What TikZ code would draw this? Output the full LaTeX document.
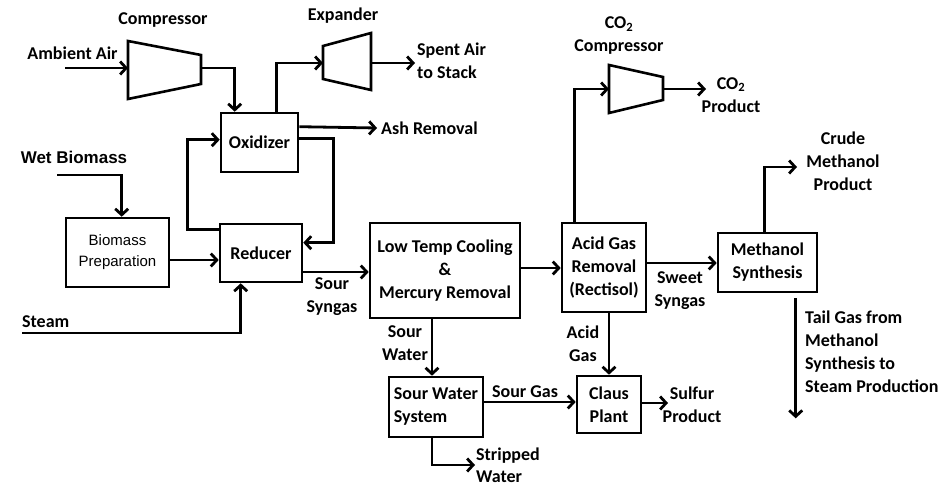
\documentclass[tikz,border=0pt]{standalone}
\usepackage{fontspec}
\setmainfont{Carlito}
\newfontfamily\arialfont{Liberation Sans}
\usetikzlibrary{arrows.meta,calc}
\begin{document}
\begin{tikzpicture}[x=1pt,y=-1pt,
  box/.style={draw,line width=2.6pt,inner sep=0pt,align=center,font=\bfseries\fontsize{18}{23}\selectfont},
  flow/.style={line width=2.8pt,-{Straight Barb[length=6pt,width=13pt]}},
  lbl/.style={font=\bfseries\fontsize{18}{23}\selectfont,align=center,inner sep=0pt},
  machine/.style={line width=2.6pt,line join=miter},
]
\useasboundingbox (0,0) rectangle (951,487);

% boxes
\node[box,minimum width=77pt,minimum height=59pt] (ox) at (259.5,142.5) {Oxidizer};
\node[box,minimum width=82pt,minimum height=58pt] (red) at (261,253) {Reducer};
\node[box,minimum width=103pt,minimum height=69pt,font=\arialfont\fontsize{15}{21}\selectfont] (bp) at (117.5,252.5) {Biomass\\Preparation};
\node[box,minimum width=150pt,minimum height=95pt] (ltc) at (445,270.5) {Low Temp Cooling\\\&\\Mercury Removal};
\node[box,minimum width=84pt,minimum height=89pt] (agr) at (604,267.5) {Acid Gas\\Removal\\(Rectisol)};
\node[box,minimum width=99pt,minimum height=59pt] (meth) at (767.5,262.5) {Methanol\\Synthesis};
\node[box,minimum width=94pt,minimum height=60pt,align=left] (sws) at (436,407) {Sour Water\\System};
\node[box,minimum width=64pt,minimum height=57pt] (claus) at (609,404.5) {Claus\\Plant};

% machines
\draw[machine] (128,41) -- (128,99) -- (201,84) -- (201,55) -- cycle;
\draw[machine] (323,46) -- (323,79) -- (371,90) -- (371,33) -- cycle;
\draw[machine] (609,65) -- (609,113) -- (663,100) -- (663,77) -- cycle;
\coordinate (compin) at (128,68);
\coordinate (compout) at (201,68);
\coordinate (expin) at (323,63);
\coordinate (expout) at (371,63);
\coordinate (co2in) at (609,89);
\coordinate (co2out) at (663,89);

% free ends
\coordinate (air) at (65,68);
\coordinate (spent) at (415,63);
\coordinate (ash) at (377,128);
\coordinate (wb) at (57,175);
\coordinate (steam) at (22,333);
\coordinate (co2prod) at (706,89);
\coordinate (crude) at (797,167);
\coordinate (sulf) at (668,403);
\coordinate (strip) at (475,465);

% connectors
\draw[flow] (air) -- (compin);
\draw[flow] (compout) -| ($(ox.north west)+(15,0)$);
\draw[flow] ($(ox.north west)+(57,0)$) |- (expin);
\draw[flow] (expout) -- (spent);
\draw[flow] ($(ox.north east)+(0,15)$) -- (ash);
\draw[flow] ($(ox.north east)+(0,27)$) -- ++(34,0) |- ($(red.north east)+(0,20)$);
\draw[flow] ($(red.north west)+(0,7)$) -- ++(-31,0) |- ($(ox.north west)+(0,28)$);
\draw[flow] (wb) -| ($(bp.north west)+(57,0)$);
\draw[flow] (bp.east |- 0,260) -- (red.west |- 0,260);
\draw[flow] (steam) -| ($(red.south west)+(22,0)$);
\draw[flow] (red.east |- 0,272) -- (ltc.west |- 0,272);
\draw[flow] (ltc.east |- 0,268) -- (agr.west |- 0,268);
\draw[flow] ($(agr.north west)+(14,0)$) |- (co2in);
\draw[flow] (co2out) -- (co2prod);
\draw[flow] (agr.east |- 0,263) -- (meth.west |- 0,263);
\draw[flow] ($(meth.north west)+(48,0)$) |- (crude);
\draw[flow] ($(meth.south west)+(79,5)$) -- ++(0,120);
\draw[flow] (ltc.south -| 432,0) -- (sws.north -| 432,0);
\draw[flow] (sws.east |- 0,402) -- (claus.west |- 0,402);
\draw[flow] (agr.south -| 609,0) -- (claus.north);
\draw[flow] (claus.east |- 0,403) -- (sulf);
\draw[flow] (sws.south -| 432,0) |- (strip);

% labels
\node[lbl] (lcomp) at (163,20) {Compressor};
\node[lbl] (lair) at (72.5,53) {Ambient Air};
\node[lbl] (lexp) at (343,16) {Expander};
\node[lbl,align=left,anchor=west] (lspent) at (417,60.5) {Spent Air\\to Stack};
\node[lbl,anchor=west] (lash) at (381,128) {Ash Removal};
\node[lbl] (lco2c) at (619,36) {CO\textsubscript{2}\\Compressor};
\node[lbl] (lco2p) at (731,95) {CO\textsubscript{2}\\Product};
\node[lbl] (lcrude) at (843,161) {Crude\\Methanol\\Product};
\node[lbl,font=\arialfont\bfseries\fontsize{17}{21}\selectfont] (lwb) at (74,157) {Wet Biomass};
\node[lbl,anchor=west] (lsteam) at (22,322) {Steam};
\node[lbl] (lsour) at (332,297) {Sour\\Syngas};
\node[lbl] (lsw) at (405,343) {Sour\\Water};
\node[lbl] (lacid) at (583,344) {Acid\\Gas};
\node[lbl] (lsg) at (525,392) {Sour Gas};
\node[lbl] (lsweet) at (680,291) {Sweet\\Syngas};
\node[lbl] (lsulf) at (692,405) {Sulfur\\Product};
\node[lbl,align=left,anchor=west,font=\bfseries\fontsize{18}{22}\selectfont] (lstrip) at (476,465) {Stripped\\Water};
\node[lbl,align=left,anchor=west] (ltail) at (805,352) {Tail Gas from\\Methanol\\Synthesis to\\Steam Production};
\end{tikzpicture}
\end{document}
